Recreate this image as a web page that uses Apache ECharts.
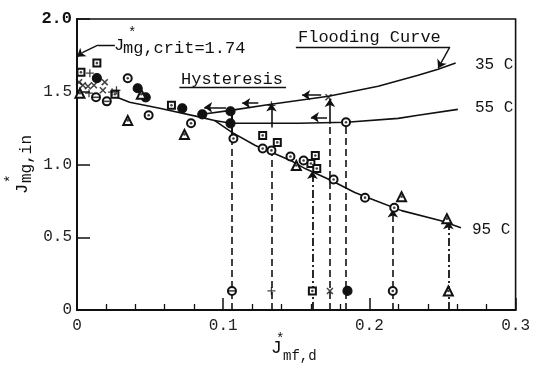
<!DOCTYPE html>
<html><head><meta charset="utf-8">
<script src="https://cdn.jsdelivr.net/npm/echarts@6/dist/echarts.min.js"></script>
<style>html,body{margin:0;padding:0;background:#fff}#c{width:533px;height:366px}</style>
</head><body><div id="c"></div>
<script>
// ---- tick labels ----
const xTickLabels = ['0', '0.1', '0.2', '0.3'];
const yTickLabels = ['0', '0.5', '1.0', '1.5', '2.0'];

// ---- measured points [J*mf,d , J*mg,in] by marker type ----
const squareDot    = [[0.0136,1.697],[0.0027,1.634],[0.0259,1.483],[0.0646,1.407],[0.127,1.200],[0.137,1.152],[0.160,1.007],[0.163,1.062],[0.164,0.972],[0.161,0.131]];
const filledCircle = [[0.0136,1.593],[0.0415,1.524],[0.047,1.462],[0.072,1.386],[0.0857,1.345],[0.105,1.366],[0.105,1.283],[0.185,0.131]];
const dotCircle    = [[0.0347,1.593],[0.049,1.338],[0.078,1.283],[0.107,1.179],[0.127,1.110],[0.133,1.097],[0.146,1.055],[0.155,1.028],[0.1755,0.897],[0.184,1.290],[0.197,0.772],[0.217,0.703],[0.216,0.131]];
const triangleDot  = [[0.002,1.490],[0.044,1.483],[0.0347,1.303],[0.0735,1.207],[0.150,0.993],[0.222,0.779],[0.253,0.628],[0.254,0.131]];
const crossX       = [[0.0014,1.566],[0.004,1.545],[0.0075,1.538],[0.0116,1.545],[0.0177,1.510],[0.019,1.566],[0.172,1.462],[0.173,0.131]];
const crossPlus    = [[0.0088,1.628],[0.0082,1.490],[0.024,1.497],[0.027,1.510],[0.133,1.407],[0.133,0.131]];
const barCircle    = [[0.013,1.462],[0.0204,1.434],[0.106,0.131]];

// ---- curves ----
const curve95 = [[0.0238,1.476],[0.036,1.428],[0.0565,1.386],[0.085,1.324],[0.094,1.303],[0.106,1.221],[0.122,1.131],[0.135,1.076],[0.146,1.028],[0.156,0.972],[0.174,0.890],[0.190,0.807],[0.204,0.752],[0.222,0.683],[0.249,0.614],[0.2626,0.566]];
const curve35 = [[0.0857,1.345],[0.105,1.372],[0.1327,1.414],[0.172,1.469],[0.206,1.538],[0.2333,1.614],[0.247,1.655],[0.259,1.697]];
const curve55 = [[0.094,1.303],[0.1054,1.283],[0.1517,1.283],[0.1844,1.290],[0.2197,1.317],[0.2333,1.338],[0.2605,1.379]];

// ---- hysteresis drop lines [x, yFrom, yTo] ----
const dropDashed        = [[0.106,0,1.15],[0.133,0,1.09],[0.173,0,1.27],[0.184,0,1.27]];
const dropDashedArrow   = [[0.216,0,0.69]];
const dropDashDotArrow  = [[0.161,0,0.955],[0.254,0,0.61]];
const riserPlain        = [[0.106,1.18,1.37]];
const riserArrow        = [[0.133,1.255,1.42],[0.173,1.28,1.45]];
// left-pointing arrows [xFrom, xTo, y]
const leftArrows = [[0.102,0.087,1.393],[0.124,0.113,1.421],[0.167,0.154,1.476],[0.171,0.160,1.324]];
// annotation leaders (data coords)
const floodLeader   = [[0.1497,1.807],[0.255,1.807],[0.247,1.662]];
const critLeader    = [[0.0259,1.821],[0.0143,1.821],[0.004,1.77],[0,1.74]];
const hystUnderline = [[0.070,1.531],[0.143,1.531]];

const INK = '#111';
const FONT = '"Liberation Mono", "DejaVu Sans Mono", monospace';

const plainSegs = [], arrowSegs = [];
const dashA = [7, 4], dashDot = [8, 3, 2, 3];
dropDashed.forEach(d => plainSegs.push({coords: [[d[0], d[1]], [d[0], d[2]]], lineStyle: {type: dashA, width: 1.6}}));
dropDashedArrow.forEach(d => arrowSegs.push({coords: [[d[0], d[1]], [d[0], d[2]]], lineStyle: {type: dashA, width: 1.6}}));
dropDashDotArrow.forEach(d => arrowSegs.push({coords: [[d[0], d[1]], [d[0], d[2]]], lineStyle: {type: dashDot, width: 1.8}}));
riserPlain.forEach(d => plainSegs.push({coords: [[d[0], d[1]], [d[0], d[2]]], lineStyle: {width: 2}}));
riserArrow.forEach(d => arrowSegs.push({coords: [[d[0], d[1]], [d[0], d[2]]], lineStyle: {width: 1.6}}));
leftArrows.forEach(d => arrowSegs.push({coords: [[d[0], d[2]], [d[1], d[2]]], lineStyle: {width: 1.6}}));
function addLeader(pts, arrow) {
  for (let i = 0; i < pts.length - 1; i++) {
    const seg = {coords: [pts[i], pts[i + 1]], lineStyle: {width: 1.4}};
    if (arrow && i === pts.length - 2) arrowSegs.push(seg); else plainSegs.push(seg);
  }
}
addLeader(floodLeader, true);
addLeader(critLeader, true);
addLeader(hystUnderline, false);

const chart = echarts.init(document.getElementById('c'), null, {renderer: 'canvas'});

function scatter(data, symbol, size, extra) {
  return Object.assign({
    type: 'scatter', data: data, symbol: symbol, symbolSize: size, z: 3,
    itemStyle: {color: INK, borderColor: INK, borderWidth: 1.2, opacity: 1},
    emphasis: {disabled: true}, silent: true
  }, extra || {});
}
function dots(data) {
  return {type: 'scatter', data: data, symbol: 'circle', symbolSize: 2.6, z: 4,
    itemStyle: {color: INK}, silent: true};
}
function curve(data) {
  return {type: 'line', data: data, symbol: 'none', z: 1, silent: true,
    lineStyle: {color: INK, width: 1.6}};
}

const option = {
  animation: false,
  backgroundColor: '#fff',
  grid: {left: 77, right: 15, top: 19, bottom: 56, show: true, borderColor: INK, borderWidth: 1.6, backgroundColor: 'transparent'},
  xAxis: {
    type: 'value', min: 0, max: 0.3, interval: 0.1,
    axisLine: {show: true, onZero: false, lineStyle: {color: INK, width: 2}},
    axisTick: {show: true, inside: true, length: 12, lineStyle: {color: INK, width: 1.5}},
    minorTick: {show: true, splitNumber: 5, length: 6, lineStyle: {color: INK, width: 1.3}},
    splitLine: {show: false},
    axisLabel: {margin: 8, color: '#222', fontFamily: FONT, fontSize: 16,
      formatter: (v, i) => xTickLabels[i] !== undefined ? xTickLabels[i] : ''}
  },
  yAxis: {
    type: 'value', min: 0, max: 2, interval: 0.5,
    axisLine: {show: true, onZero: false, lineStyle: {color: INK, width: 2}},
    axisTick: {show: true, inside: true, length: 13, lineStyle: {color: INK, width: 1.5}},
    splitLine: {show: false},
    axisLabel: {margin: 5, color: '#222', fontFamily: FONT, fontSize: 16,
      formatter: (v, i) => i === yTickLabels.length - 1 ? '{b|' + yTickLabels[i] + '}' : (yTickLabels[i] || ''),
      rich: {b: {fontFamily: FONT, fontSize: 17, fontWeight: 'bold', color: '#111'}}}
  },
  series: [
    curve(curve95), curve(curve35), curve(curve55),
    {type: 'lines', coordinateSystem: 'cartesian2d', z: 1, silent: true, symbol: 'none',
      lineStyle: {color: INK, width: 1.5, opacity: 1, curveness: 0}, data: plainSegs},
    {type: 'lines', coordinateSystem: 'cartesian2d', z: 2, silent: true, symbol: ['none', 'arrow'], symbolSize: 8,
      lineStyle: {color: INK, width: 1.5, opacity: 1, curveness: 0}, data: arrowSegs},
    scatter(squareDot, 'emptyRect', 7), dots(squareDot),
    scatter(filledCircle, 'circle', 9),
    scatter(dotCircle, 'emptyCircle', 8), dots(dotCircle),
    scatter(triangleDot, 'emptyTriangle', 9), dots(triangleDot),
    scatter(crossX, 'path://M1.5,0L10,8.5L8.5,10L0,1.5Z M8.5,0L10,1.5L1.5,10L0,8.5Z', 7, {itemStyle: {color: INK, borderWidth: 0}}),
    scatter(crossPlus, 'path://M4.2,0H5.8V10H4.2Z M0,4.2H10V5.8H0Z', 8, {itemStyle: {color: INK, borderWidth: 0}}),
    scatter(barCircle, 'emptyCircle', 8),
    scatter(barCircle, 'path://M0,4H10V6H0Z', [6, 1.6], {z: 4, itemStyle: {color: INK, borderWidth: 0}})
  ],
  graphic: [
    // annotations
    {type: 'text', x: 298, y: 37, style: {text: 'Flooding Curve', font: '17px ' + FONT, fill: INK, align: 'left', verticalAlign: 'middle', textAlign: 'left', textVerticalAlign: 'middle'}},
    {type: 'text', x: 181, y: 79, style: {text: 'Hysteresis', font: '17px ' + FONT, fill: INK, align: 'left', verticalAlign: 'middle', textAlign: 'left', textVerticalAlign: 'middle'}},
    {type: 'text', x: 475, y: 65, style: {text: '35 C', font: '16px ' + FONT, fill: INK, align: 'left', verticalAlign: 'middle', textAlign: 'left', textVerticalAlign: 'middle'}},
    {type: 'text', x: 475, y: 108, style: {text: '55 C', font: '16px ' + FONT, fill: INK, align: 'left', verticalAlign: 'middle', textAlign: 'left', textVerticalAlign: 'middle'}},
    {type: 'text', x: 472, y: 230, style: {text: '95 C', font: '16px ' + FONT, fill: INK, align: 'left', verticalAlign: 'middle', textAlign: 'left', textVerticalAlign: 'middle'}},
    {type: 'text', x: 114, y: 45, style: {text: 'J', font: '17px ' + FONT, fill: INK, align: 'left', verticalAlign: 'middle', textAlign: 'left', textVerticalAlign: 'middle'}},
    {type: 'text', x: 128, y: 33, style: {text: '*', font: '14px ' + FONT, fill: INK, align: 'left', verticalAlign: 'middle', textAlign: 'left', textVerticalAlign: 'middle'}},
    {type: 'text', x: 123, y: 48, style: {text: 'mg,crit=1.74', font: '17px ' + FONT, fill: INK, align: 'left', verticalAlign: 'middle', textAlign: 'left', textVerticalAlign: 'middle'}},
    // x axis name
    {type: 'text', x: 271, y: 348, style: {text: 'J', font: '18px ' + FONT, fill: INK, align: 'left', verticalAlign: 'middle', textAlign: 'left', textVerticalAlign: 'middle'}},
    {type: 'text', x: 276, y: 339, style: {text: '*', font: '14px ' + FONT, fill: INK, align: 'left', verticalAlign: 'middle', textAlign: 'left', textVerticalAlign: 'middle'}},
    {type: 'text', x: 283, y: 356, style: {text: 'mf,d', font: '14px ' + FONT, fill: INK, align: 'left', verticalAlign: 'middle', textAlign: 'left', textVerticalAlign: 'middle'}},
    // y axis name (rotated)
    {type: 'text', x: 22, y: 194, rotation: Math.PI / 2, style: {text: 'J', font: '17px ' + FONT, fill: INK, align: 'left', verticalAlign: 'middle', textAlign: 'left', textVerticalAlign: 'middle'}},
    {type: 'text', x: 11, y: 183, rotation: Math.PI / 2, style: {text: '*', font: '14px ' + FONT, fill: INK, align: 'left', verticalAlign: 'middle', textAlign: 'left', textVerticalAlign: 'middle'}},
    {type: 'text', x: 27, y: 183, rotation: Math.PI / 2, style: {text: 'mg,in', font: '16px ' + FONT, fill: INK, align: 'left', verticalAlign: 'middle', textAlign: 'left', textVerticalAlign: 'middle'}}
  ]
};
chart.setOption(option);
</script>
</body></html>
